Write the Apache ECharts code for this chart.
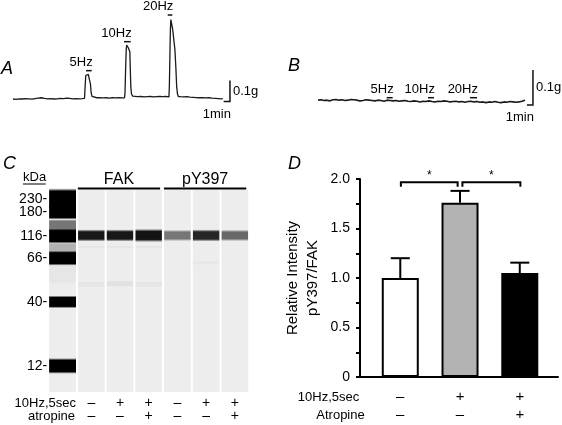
<!DOCTYPE html>
<html>
<head>
<meta charset="utf-8">
<script src="https://cdn.jsdelivr.net/npm/echarts@6/dist/echarts.min.js"></script>
<style>
html,body{margin:0;padding:0;background:#fff;}
#chart{width:562px;height:425px;}
</style>
</head>
<body>
<div id="chart"></div>
<script>
// ================= DATA =================
// Panel A: contraction trace, control (time in min, force in g)
const traceA = [
 [0,0.000],[0.5,-0.002],[1,0.001],[1.5,0.000],[2,0.002],[2.5,0.001],[3,-0.001],[3.5,0.002],[4,0.004],[4.5,0.006],[5,0.003],[5.5,0.001],[6,0.002],[6.5,0.000],[7,0.001],[7.5,0.003],[8,0.002],[8.5,0.004],[9,0.003],[9.5,0.001],[10,0.002],[10.5,0.001],[11,0.002],
 [11.35,0.003],[11.45,0.06],[11.55,0.112],[11.65,0.119],[11.8,0.120],[11.95,0.117],[12.1,0.115],[12.22,0.11],[12.3,0.07],[12.4,0.03],[12.55,0.012],[12.8,0.007],[13.3,0.006],
 [13.8,0.007],[14.3,0.005],[14.8,0.006],[15.3,0.004],[15.8,0.006],[16.3,0.005],[16.8,0.006],[17.3,0.005],[17.7,0.006],
 [17.78,0.03],[17.88,0.15],[17.98,0.24],[18.05,0.257],[18.15,0.255],[18.3,0.244],[18.45,0.236],[18.55,0.225],[18.62,0.14],[18.7,0.06],[18.8,0.025],[19.0,0.014],[19.3,0.011],
 [19.8,0.011],[20.3,0.012],[20.8,0.010],[21.3,0.011],[21.8,0.012],[22.3,0.010],[22.8,0.011],[23.3,0.012],[23.8,0.011],[24.3,0.012],[24.75,0.010],
 [24.82,0.06],[24.9,0.2],[24.98,0.33],[25.06,0.378],[25.12,0.384],[25.2,0.37],[25.35,0.33],[25.5,0.29],[25.7,0.235],[25.85,0.15],[25.98,0.06],[26.1,0.025],[26.25,0.012],
 [26.6,0.011],[27.1,0.010],[27.6,0.011],[28.1,0.009],[28.6,0.008],[29.1,0.007],[29.6,0.006],[30.1,0.006],[30.6,0.005],[31.1,0.006],[31.6,0.004],[32.1,0.003],[32.6,0.002],[33.0,0.001],[33.3,0.002]
];
// Panel B: trace with atropine (sampled every 0.5 min, force in g)
const traceB_dt = 0.5;
const traceB_g = [
 0.001,0.002,0.000,0.001,-0.001,0.002,0.003,0.001,0.002,0.000,
 0.001,0.003,0.002,0.001,-0.001,0.000,0.002,0.001,0.000,-0.001,
 0.001,0.000,-0.002,0.001,0.000,-0.001,0.000,-0.002,-0.001,0.000,
 -0.002,-0.003,-0.001,-0.002,-0.004,-0.002,-0.003,-0.001,-0.003,-0.004,
 -0.002,-0.003,-0.001,-0.002,-0.004,-0.003,-0.002,-0.004,-0.003,-0.005,
 -0.003,-0.002,-0.004,-0.003,-0.005,-0.004,-0.006,-0.004,-0.005,-0.003,
 -0.005,-0.006,-0.004,-0.005,-0.003,-0.004,-0.005,-0.004,-0.002,0.001
];
// Stimulation labels and periods (min)
const stimLabels = ['5Hz','10Hz','20Hz'];
const stimA_start = [11.59,17.62,24.56];
const stimA_end   = [12.49,18.68,25.29];
const stimA_level = [0.135,0.273,0.400];
const stimB_start = [11.45,18.33,25.33];
const stimB_end   = [12.45,19.33,26.50];
const stimB_level = [0.008,0.008,0.008];
// Scale bars
const scaleMin = 1, scaleG = 0.1;
const scaleA_anchor = [34.44,-0.012];
const scaleB_anchor = [35.83,-0.0129];

// Panel C: capillary western (migration position in % of capillary)
const lanes = ['Ladder','1','2','3','4','5','6'];
const laneStim     = [null,false,true,true,false,true,true];
const laneAtropine = [null,false,false,true,false,false,true];
const ladderKDa = [230,180,116,66,40,12];
const ladderPos = [4.7,10.8,22.8,33.5,55.5,87.1];
const ladderBandPos = [4.4,10.9,22.8,33.7,55.4,87.1];
const ladderBandWidth = [10.5,7.5,7.5,7.5,6.2,7.8];
const ladderSmear = [[17.6,6.2,0.5],[28.4,4.6,0.25],[41,12,0.03]]; // [pos,width,density]
const band116_pos = 22.5;
const band116_width = [6.0,6.0,6.6,5.6,6.0,5.6];
const band116_density = [0.90,0.90,0.92,0.50,0.84,0.56];
const faintBands = [[1,28.2,1.4,0.03],[2,28.2,1.4,0.03],[3,28.2,1.4,0.03],[1,46.8,3,0.035],[2,46.4,3,0.05],[3,46.8,3,0.035],[5,36,2,0.025]];
const groups = [['FAK',1,3],['pY397',4,6]];

// Panel D: relative intensity pY397/FAK
const groupsD = ['Control','10Hz,5sec','10Hz,5sec + Atropine'];
const stimD = [false,true,true];
const atropineD = [false,false,true];
const meanD = [1.00,1.76,1.05];
const semD  = [0.20,0.12,0.105];
const barColorsD = ['#ffffff','#b3b3b3','#000000'];
const comparisons = [[0,1,'*'],[1,2,'*']];
const bracketLevel = 1.967;

// ================= CHART =================
const FONT = '"Liberation Sans", Arial, Helvetica, sans-serif';
const fnt = (sz, st) => (st || 'normal') + ' ' + sz + 'px ' + FONT;
const txt = (o) => Object.assign({fill:'#000', align:o.align, verticalAlign:o.verticalAlign, textAlign:o.align, textVerticalAlign:o.verticalAlign}, o);

const chart = echarts.init(document.getElementById('chart'), null, {renderer:'canvas'});

const traceB = traceB_g.map((g,i)=>[i*traceB_dt, g]);

function stimRender(labels){
  return function(params, api){
    const p0 = api.coord([api.value(0), api.value(2)]);
    const p1 = api.coord([api.value(1), api.value(2)]);
    return {type:'group', children:[
      {type:'line', shape:{x1:p0[0],y1:p0[1],x2:p1[0],y2:p1[1]}, style:{stroke:'#111', lineWidth:1.5}},
      {type:'text', style:txt({text:labels[params.dataIndex], x:p1[0]+1, y:p1[1]-2, align:'right', verticalAlign:'bottom', font:fnt(13)})}
    ]};
  };
}
function scaleRender(params, api){
  const a = [api.value(0), api.value(1)];
  const p0 = api.coord([a[0]-scaleMin, a[1]]);
  const p1 = api.coord(a);
  const p2 = api.coord([a[0], a[1]+scaleG]);
  return {type:'group', children:[
    {type:'polyline', shape:{points:[p0,p1,p2]}, style:{stroke:'#111', lineWidth:1.5, fill:null}},
    {type:'text', style:txt({text:scaleG+'g', x:p1[0]+3, y:(p1[1]+p2[1])/2, align:'left', verticalAlign:'middle', font:fnt(13)})},
    {type:'text', style:txt({text:scaleMin+'min', x:p1[0]+1, y:p1[1]+6, align:'right', verticalAlign:'top', font:fnt(13)})}
  ]};
}
function bandShape(api, lane, pos, width, density, laneFrac, soft){
  const c = api.coord([lane, pos]);
  const h = api.size([0, width])[1];
  const w = api.size([1, 0])[0] * laneFrac;
  const col = 'rgba(0,0,0,' + density + ')';
  const e = soft;
  return {type:'rect', shape:{x:c[0]-w/2, y:c[1]-h/2, width:w, height:h},
    style:{fill:new echarts.graphic.LinearGradient(0,0,0,1,[
      {offset:0,color:'rgba(0,0,0,0)'},{offset:e,color:col},{offset:1-e,color:col},{offset:1,color:'rgba(0,0,0,0)'}])}};
}

const option = {
  animation:false,
  backgroundColor:'#fff',
  textStyle:{fontFamily:FONT, color:'#000'},
  grid:[
    {left:13, top:14, width:220.5, height:92, outerBoundsMode:'none'},
    {left:318, top:65, width:220, height:43, outerBoundsMode:'none'},
    {left:48.2, top:190, width:201, height:202, outerBoundsMode:'none'},
    {left:360, top:179, width:198, height:198, outerBoundsMode:'none'},
    {left:370.4, top:179, width:179.25, height:198, outerBoundsMode:'none'}
  ],
  xAxis:[
    {gridIndex:0, type:'value', min:0, max:35, show:false},
    {gridIndex:1, type:'value', min:0, max:36.67, show:false},
    {gridIndex:2, type:'category', data:lanes, axisLine:{show:false}, axisTick:{show:false}, splitLine:{show:false},
      axisLabel:{interval:0, margin:4, fontSize:14, lineHeight:13.5, color:'#000',
        formatter:(v,i)=> laneStim[i]===null ? '' : (laneStim[i]?'+':'–')+'\n'+(laneAtropine[i]?'+':'–')}},
    {gridIndex:3, type:'value', min:0, max:1, axisLine:{show:true, onZero:false, lineStyle:{color:'#000', width:2}},
      axisTick:{show:false}, axisLabel:{show:false}, splitLine:{show:false}},
    {gridIndex:4, type:'category', data:groupsD, axisLine:{show:false}, axisTick:{show:false},
      axisLabel:{interval:0, margin:11, fontSize:15, lineHeight:18, color:'#000',
        formatter:(v,i)=> (stimD[i]?'+':'–')+'\n'+(atropineD[i]?'+':'–')}}
  ],
  yAxis:[
    {gridIndex:0, type:'value', min:-0.0333, max:0.4048, show:false},
    {gridIndex:1, type:'value', min:-0.0214, max:0.1014, show:false},
    {gridIndex:2, type:'value', min:0, max:100, inverse:true, show:false},
    {gridIndex:3, type:'value', min:0, max:2, interval:0.5,
      axisLine:{show:true, lineStyle:{color:'#000', width:2}},
      axisTick:{show:true, length:4, lineStyle:{color:'#000', width:2}},
      minorTick:{show:true, splitNumber:2, length:4, lineStyle:{color:'#000', width:2}},
      splitLine:{show:false},
      axisLabel:{fontSize:14, color:'#000', margin:10, formatter:v=> v===0 ? '0' : v.toFixed(1)},
      name:'Relative Intensity\npY397/FAK', nameLocation:'middle', nameRotate:90, nameGap:37,
      nameTextStyle:{fontSize:15, lineHeight:20, color:'#000'}},
    {gridIndex:4, type:'value', min:0, max:2, show:false}
  ],
  series:[
    // ---- Panel C ----
    {type:'custom', xAxisIndex:2, yAxisIndex:2, data:lanes.map((l,i)=>[i]), silent:true,
      renderItem:(p,api)=>{
        const c = api.coord([api.value(0),0]); const c2 = api.coord([api.value(0),100]);
        const w = api.size([1,0])[0]*0.935;
        return {type:'rect', shape:{x:c[0]-w/2, y:c[1], width:w, height:c2[1]-c[1]}, style:{fill:'#ededed'}};
      }},
    {type:'custom', xAxisIndex:2, yAxisIndex:2, silent:true,
      data:ladderBandPos.map((p,i)=>[0,p,ladderBandWidth[i],1]).concat(ladderSmear.map(s=>[0,s[0],s[1],s[2]])),
      renderItem:(p,api)=>bandShape(api, api.value(0), api.value(1), api.value(2), api.value(3), 0.935, 0.14)},
    {type:'custom', xAxisIndex:2, yAxisIndex:2, silent:true,
      data:band116_density.map((d,i)=>[i+1,band116_pos,band116_width[i],d]).concat(faintBands),
      renderItem:(p,api)=>bandShape(api, api.value(0), api.value(1), api.value(2), api.value(3), 0.92, 0.2)},
    {type:'custom', xAxisIndex:2, yAxisIndex:2, silent:true,
      data:ladderPos.map((p,i)=>[0,p]),
      renderItem:(p,api)=>{
        const c = api.coord([0, api.value(1)]); const w = api.size([1,0])[0]*0.935;
        return {type:'text', style:txt({text:ladderKDa[p.dataIndex]+'-', x:c[0]-w/2-2, y:c[1], align:'right', verticalAlign:'middle', font:fnt(14)})};
      }},
    {type:'custom', xAxisIndex:2, yAxisIndex:2, silent:true,
      data:groups.map(g=>[g[1],g[2]]),
      renderItem:(p,api)=>{
        const w = api.size([1,0])[0]*0.935;
        const a = api.coord([api.value(0),0]); const b = api.coord([api.value(1),0]);
        const x1 = a[0]-w/2, x2 = b[0]+w/2-2, y = a[1]-1.5;
        return {type:'group', children:[
          {type:'line', shape:{x1:x1,y1:y,x2:x2,y2:y}, style:{stroke:'#000', lineWidth:2}},
          {type:'text', style:txt({text:groups[p.dataIndex][0], x:(x1+x2)/2, y:y-9, align:'center', verticalAlign:'middle', font:fnt(16)})}
        ]};
      }},
    // ---- Panel A ----
    {type:'line', xAxisIndex:0, yAxisIndex:0, data:traceA, showSymbol:false, symbol:'none', lineStyle:{color:'#1a1a1a', width:1.3}, silent:true},
    {type:'custom', xAxisIndex:0, yAxisIndex:0, silent:true,
      data:stimLabels.map((l,i)=>[stimA_start[i],stimA_end[i],stimA_level[i]]), renderItem:stimRender(stimLabels)},
    {type:'custom', xAxisIndex:0, yAxisIndex:0, silent:true, data:[scaleA_anchor], renderItem:scaleRender},
    // ---- Panel B ----
    {type:'line', xAxisIndex:1, yAxisIndex:1, data:traceB, showSymbol:false, symbol:'none', lineStyle:{color:'#1a1a1a', width:1.6}, silent:true},
    {type:'custom', xAxisIndex:1, yAxisIndex:1, silent:true,
      data:stimLabels.map((l,i)=>[stimB_start[i],stimB_end[i],stimB_level[i]]), renderItem:stimRender(stimLabels)},
    {type:'custom', xAxisIndex:1, yAxisIndex:1, silent:true, data:[scaleB_anchor], renderItem:scaleRender},
    // ---- Panel D ----
    {type:'bar', xAxisIndex:4, yAxisIndex:4, barWidth:37, silent:true,
      itemStyle:{borderColor:'#000', borderWidth:2},
      data:meanD.map((v,i)=>({value:v, itemStyle:{color:barColorsD[i]}}))},
    {type:'custom', xAxisIndex:4, yAxisIndex:4, silent:true, z:5,
      data:meanD.map((m,i)=>[i,m,semD[i]]),
      renderItem:(p,api)=>{
        const b = api.coord([api.value(0), api.value(1)]);
        const t = api.coord([api.value(0), api.value(1)+api.value(2)]);
        return {type:'group', children:[
          {type:'line', shape:{x1:b[0],y1:b[1],x2:t[0],y2:t[1]}, style:{stroke:'#000', lineWidth:2}},
          {type:'line', shape:{x1:t[0]-9.5,y1:t[1],x2:t[0]+9.5,y2:t[1]}, style:{stroke:'#000', lineWidth:2}}
        ]};
      }},
    {type:'custom', xAxisIndex:4, yAxisIndex:4, silent:true, z:5,
      data:comparisons.map(c=>[c[0],c[1]]),
      renderItem:(p,api)=>{
        const i0 = api.value(0), i1 = api.value(1);
        const shared = (k)=> comparisons.filter(c=>c[0]===k||c[1]===k).length>1;
        const a = api.coord([i0, bracketLevel]); const b = api.coord([i1, bracketLevel]);
        const d = api.coord([i0, bracketLevel-0.045]);
        const x1 = a[0] + (shared(i0)?2.4:0.6), x2 = b[0] - (shared(i1)?2.4:-0.6);
        return {type:'group', children:[
          {type:'polyline', shape:{points:[[x1,d[1]],[x1,a[1]],[x2,a[1]],[x2,d[1]]]}, style:{stroke:'#000', lineWidth:2, fill:null}},
          {type:'text', style:txt({text:comparisons[p.dataIndex][2], x:(x1+x2)/2, y:a[1]-1, align:'center', verticalAlign:'bottom', font:fnt(12)})}
        ]};
      }}
  ],
  graphic:[
    {type:'text', left:1, top:60, style:{text:'A', font:fnt(18,'italic'), fill:'#000'}},
    {type:'text', left:288, top:57, style:{text:'B', font:fnt(18,'italic'), fill:'#000'}},
    {type:'text', left:3, top:155, style:{text:'C', font:fnt(18,'italic'), fill:'#000'}},
    {type:'text', left:288, top:155, style:{text:'D', font:fnt(18,'italic'), fill:'#000'}},
    {type:'text', left:23, top:171, style:{text:'kDa', font:fnt(13), fill:'#000'}},
    {type:'line', shape:{x1:23, y1:184, x2:45.7, y2:184}, style:{stroke:'#000', lineWidth:1}},
    {type:'text', x:76, y:403, style:txt({text:'10Hz,5sec', align:'right', verticalAlign:'middle', font:fnt(13)})},
    {type:'text', x:75, y:416, style:txt({text:'atropine', align:'right', verticalAlign:'middle', font:fnt(13)})},
    {type:'text', x:328.5, y:397, style:txt({text:'10Hz,5sec', align:'center', verticalAlign:'middle', font:fnt(13)})},
    {type:'text', x:340.5, y:415, style:txt({text:'Atropine', align:'center', verticalAlign:'middle', font:fnt(13)})}
  ]
};
chart.setOption(option);
</script>
</body>
</html>
